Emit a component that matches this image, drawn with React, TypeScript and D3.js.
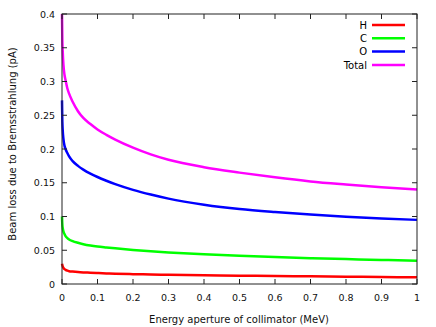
import React from "react";
import * as d3 from "d3";

const energies = [0, 0.001, 0.002, 0.004, 0.007, 0.01, 0.015, 0.02, 0.03, 0.045, 0.06, 0.08, 0.1, 0.125, 0.15, 0.2, 0.25, 0.3, 0.4, 0.5, 0.6, 0.7, 0.8, 0.9, 1.0];
const hLoss = [0.030, 0.028, 0.026, 0.024, 0.022, 0.021, 0.0198, 0.019, 0.0184, 0.0177, 0.0172, 0.0167, 0.0162, 0.0157, 0.0153, 0.0146, 0.0141, 0.0136, 0.0129, 0.0123, 0.0118, 0.0114, 0.0108, 0.0103, 0.0099];
const cLoss = [0.100, 0.088, 0.083, 0.078, 0.074, 0.071, 0.068, 0.066, 0.0635, 0.061, 0.059, 0.057, 0.0555, 0.0541, 0.0528, 0.0505, 0.0485, 0.0468, 0.0441, 0.0418, 0.0399, 0.0383, 0.0369, 0.0356, 0.0345];
const oLoss = [0.272, 0.240, 0.228, 0.215, 0.205, 0.200, 0.194, 0.189, 0.182, 0.175, 0.1695, 0.1635, 0.1585, 0.153, 0.148, 0.1395, 0.1325, 0.1265, 0.1175, 0.111, 0.1065, 0.1028, 0.0997, 0.0972, 0.095];
const totalLoss = [0.400, 0.360, 0.345, 0.325, 0.310, 0.302, 0.290, 0.282, 0.270, 0.256, 0.246, 0.237, 0.229, 0.221, 0.214, 0.202, 0.192, 0.184, 0.173, 0.165, 0.158, 0.152, 0.1475, 0.1435, 0.140];

const seriesNames = ["H", "C", "O", "Total"];
const seriesColors = ["#ff0000", "#00ff00", "#0000ff", "#ff00ff"];
const seriesValues = [hLoss, cLoss, oLoss, totalLoss];

const xTicks = [0, 0.1, 0.2, 0.3, 0.4, 0.5, 0.6, 0.7, 0.8, 0.9, 1];
const yTicks = [0, 0.05, 0.1, 0.15, 0.2, 0.25, 0.3, 0.35, 0.4];

export default function App() {
  const W = 436, H = 327;
  const left = 62, right = 417, top = 14, bottom = 284;
  const x = d3.scaleLinear().domain([0, 1]).range([left, right]);
  const y = d3.scaleLinear().domain([0, 0.4]).range([bottom, top]);
  const line = d3.line<[number, number]>()
    .x(d => x(d[0]))
    .y(d => y(d[1]))
    .curve(d3.curveMonotoneX);
  const font = "DejaVu Sans, sans-serif";
  const axisColor = "#222";
  const tl = 5;
  return (
    <svg width={W} height={H} style={{ position: "absolute", left: 0, top: 0, background: "#fff" }}>
      <rect x={0} y={0} width={W} height={H} fill="#fff" />
      {seriesValues.map((vals, i) => (
        <path key={i} d={line(energies.map((e, j) => [e, vals[j]] as [number, number])) || ""}
          fill="none" stroke={seriesColors[i]} strokeWidth={2.5} strokeLinejoin="round" />
      ))}
      <rect x={left} y={top} width={right - left} height={bottom - top} fill="none" stroke={axisColor} strokeWidth={1} />
      {xTicks.map((t, i) => (
        <g key={"x" + i}>
          <line x1={x(t)} x2={x(t)} y1={bottom} y2={bottom - tl} stroke={axisColor} />
          <line x1={x(t)} x2={x(t)} y1={top} y2={top + tl} stroke={axisColor} />
          <text x={x(t)} y={bottom + 17} textAnchor="middle" fontFamily={font} fontSize={9.5} fill="#111">{d3.format("")(t)}</text>
        </g>
      ))}
      {yTicks.map((t, i) => (
        <g key={"y" + i}>
          <line x1={left} x2={left + tl} y1={y(t)} y2={y(t)} stroke={axisColor} />
          <line x1={right} x2={right - tl} y1={y(t)} y2={y(t)} stroke={axisColor} />
          <text x={left - 7} y={y(t) + 3.5} textAnchor="end" fontFamily={font} fontSize={9.5} fill="#111">{d3.format("")(t)}</text>
        </g>
      ))}
      <text x={239} y={323} textAnchor="middle" fontFamily={font} fontSize={10} fill="#111">Energy aperture of collimator (MeV)</text>
      <text transform={`translate(16,144) rotate(-90)`} textAnchor="middle" fontFamily={font} fontSize={10} fill="#111">Beam loss due to Bremsstrahlung (pA)</text>
      {seriesNames.map((n, i) => {
        const ly = 25 + i * 13.3;
        return (
          <g key={"l" + i}>
            <text x={367} y={ly + 3.8} textAnchor="end" fontFamily={font} fontSize={10} fill="#000">{n}</text>
            <line x1={372} x2={405} y1={ly} y2={ly} stroke={seriesColors[i]} strokeWidth={2.5} />
          </g>
        );
      })}
    </svg>
  );
}
